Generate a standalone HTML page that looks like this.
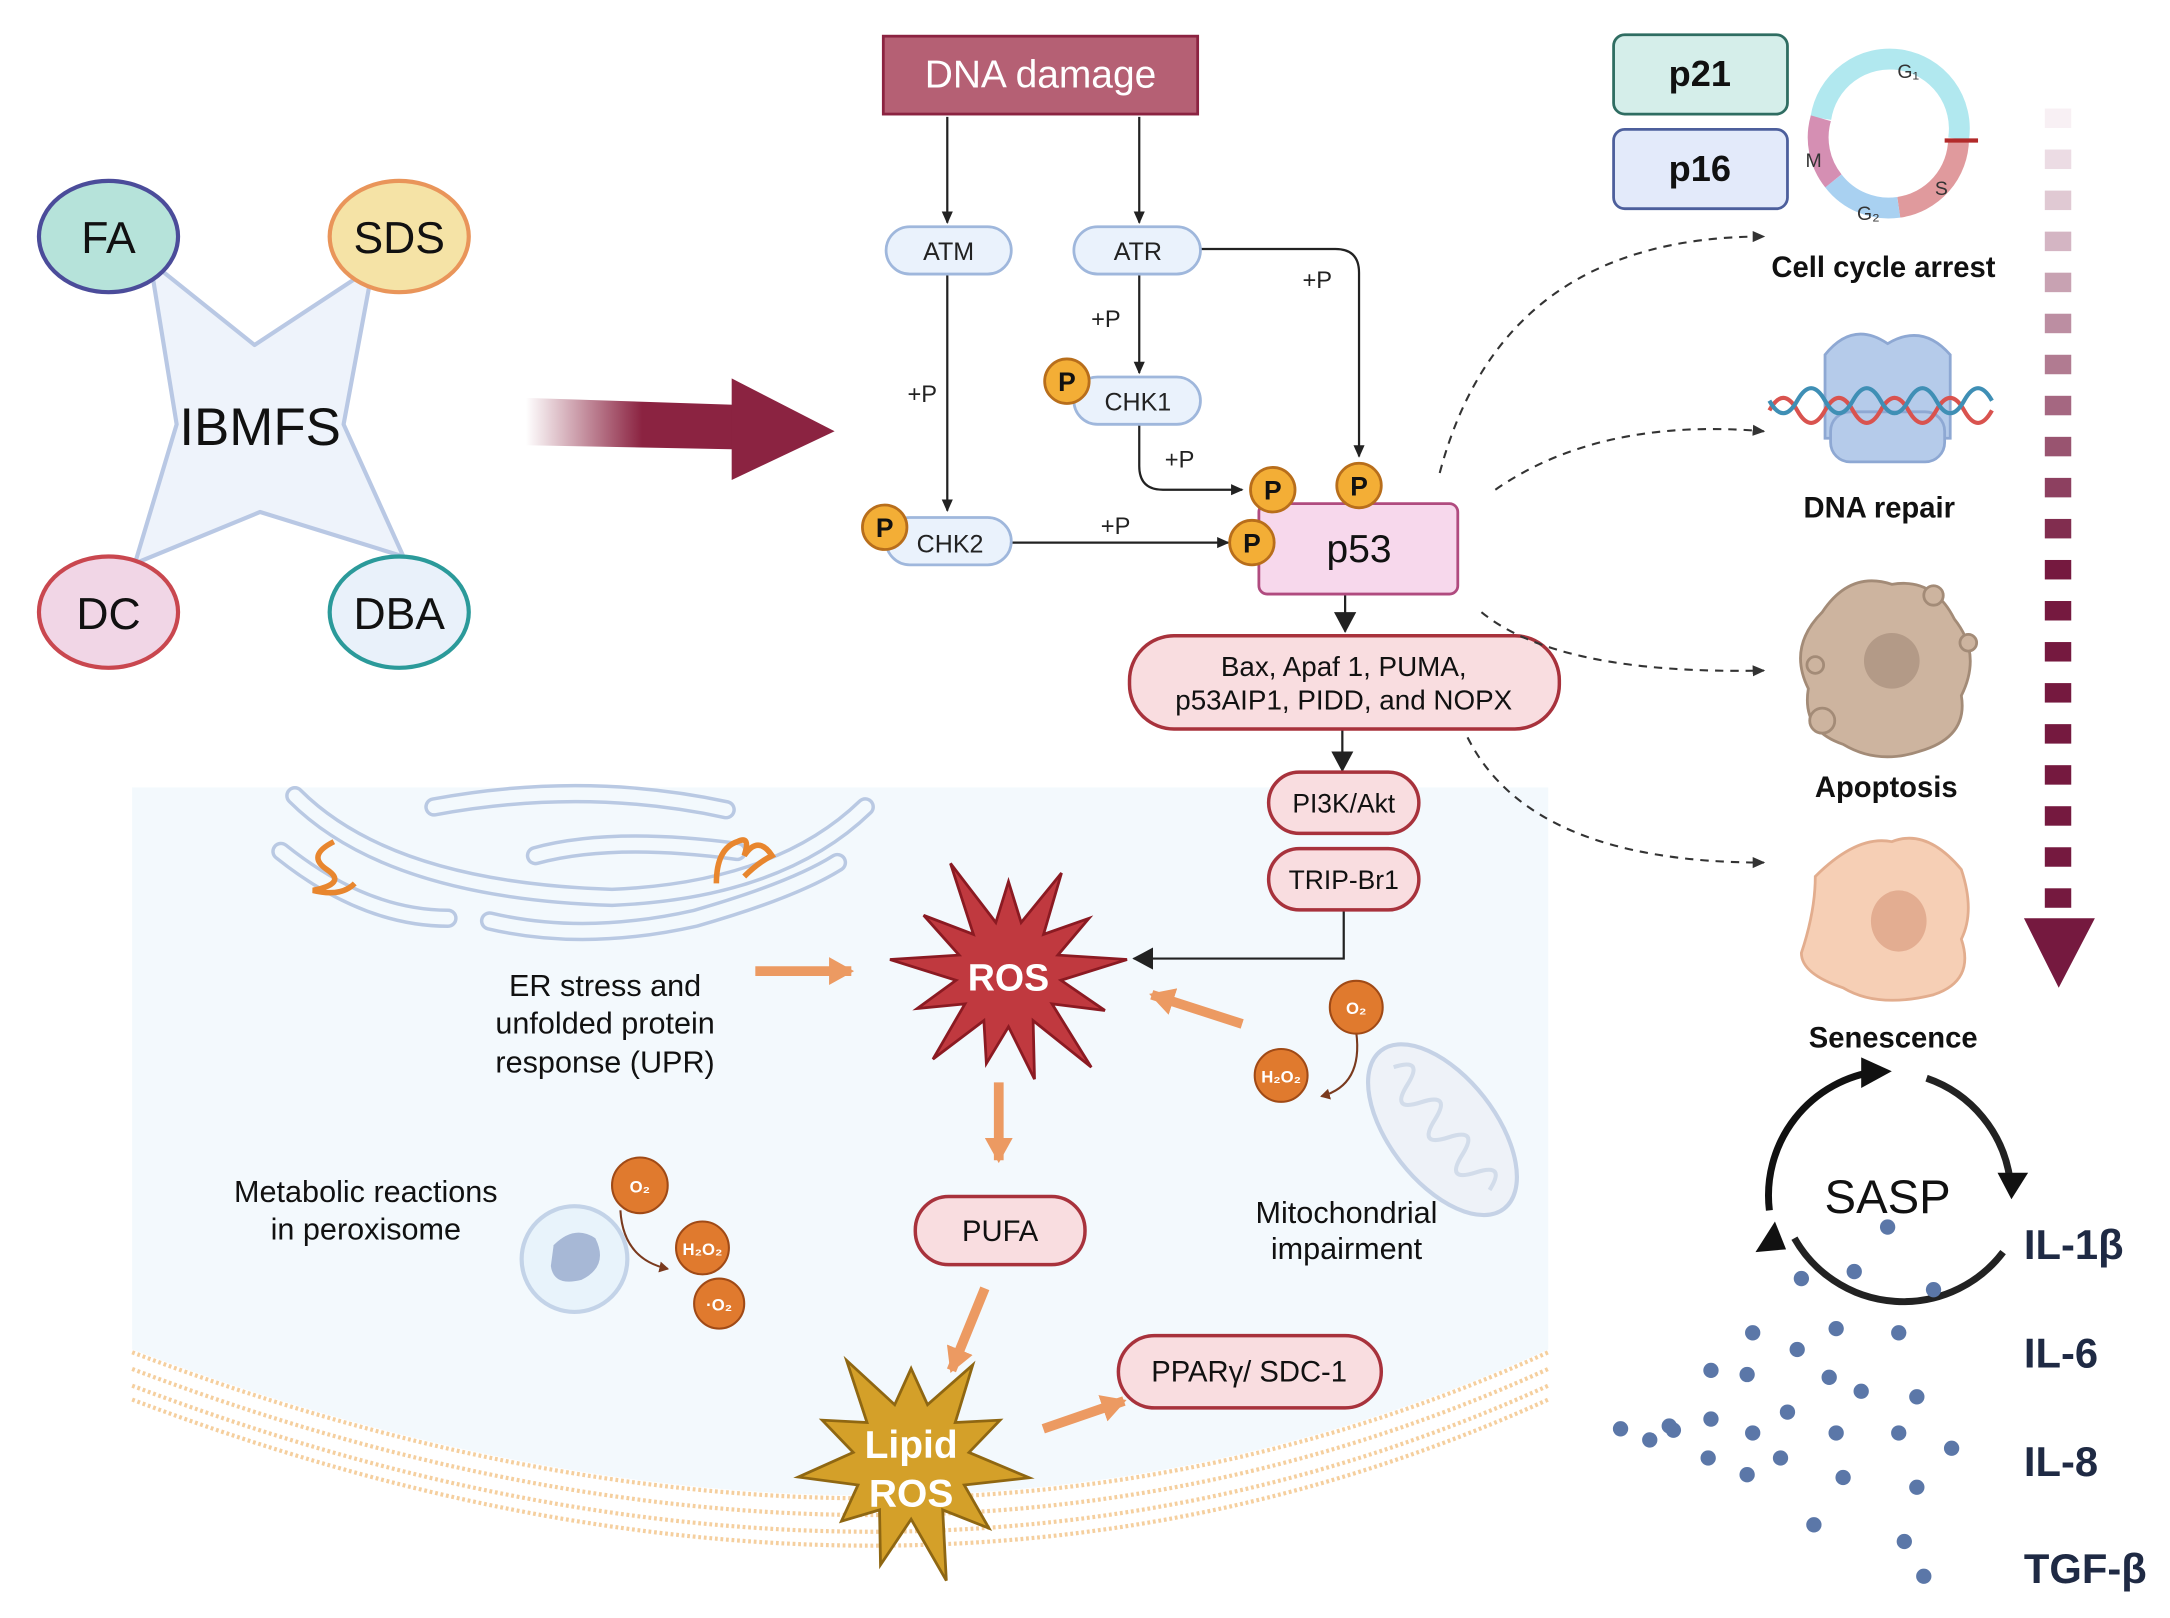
<!DOCTYPE html>
<html><head><meta charset="utf-8"><style>
html,body{margin:0;padding:0;background:#fff}
svg{display:block}
text{font-family:"Liberation Sans",sans-serif}
</style></head><body>
<svg id="s" width="2170" height="1618" viewBox="0 0 1560 1163" preserveAspectRatio="none" xmlns="http://www.w3.org/2000/svg">
<defs>
<linearGradient id="shaft" x1="0" x2="1" y1="0" y2="0">
<stop offset="0" stop-color="#8b2341" stop-opacity="0"/><stop offset="0.55" stop-color="#8b2341"/><stop offset="1" stop-color="#8b2341"/></linearGradient>
<marker id="ah" markerWidth="10" markerHeight="10" refX="8" refY="5" orient="auto" markerUnits="userSpaceOnUse"><path d="M0,1 L9,5 L0,9 Z" fill="#222"/></marker>
<marker id="ahb" markerWidth="16" markerHeight="16" refX="14" refY="8" orient="auto" markerUnits="userSpaceOnUse"><path d="M0,0 L15,8 L0,16 Z" fill="#222"/></marker>
<marker id="ahd" markerWidth="10" markerHeight="10" refX="8" refY="5" orient="auto" markerUnits="userSpaceOnUse"><path d="M0,1 L9,5 L0,9 Z" fill="#333"/></marker>
<marker id="aho" markerWidth="20" markerHeight="20" refX="16" refY="10" orient="auto" markerUnits="userSpaceOnUse"><path d="M0,0 L18,10 L0,20 Z" fill="#ec9a62"/></marker>
<marker id="ahbr" markerWidth="8" markerHeight="8" refX="6" refY="4" orient="auto" markerUnits="userSpaceOnUse"><path d="M0,0 L7,4 L0,8 Z" fill="#7a3a1e"/></marker>
</defs>

<!-- cell region -->
<path d="M95,566 H1113 V970 Q650,1180 95,970 Z" fill="#f3f9fd"/>
<path d="M95,972 Q650,1182 1113,972" fill="none" stroke="#f5cf9e" stroke-width="3" stroke-dasharray="2,2"/>
<path d="M95,984 Q650,1194 1113,984" fill="none" stroke="#f5cf9e" stroke-width="3" stroke-dasharray="2,2"/>
<path d="M95,996 Q650,1206 1113,996" fill="none" stroke="#f5cf9e" stroke-width="3" stroke-dasharray="2,2"/>
<path d="M95,1006 Q650,1216 1113,1006" fill="none" stroke="#f5cf9e" stroke-width="3" stroke-dasharray="2,2"/>

<!-- ER / golgi -->
<g fill="none" stroke="#b9c9e3" stroke-width="14" stroke-linecap="round">
<path d="M212,572 Q280,640 440,645 Q560,640 622,580"/>
<path d="M202,612 Q262,660 322,660"/>
<path d="M312,580 Q420,560 522,582"/>
<path d="M352,662 Q420,678 500,660 Q570,640 602,620"/>
<path d="M385,615 Q440,600 530,612"/>
</g>
<g fill="none" stroke="#f3f9fd" stroke-width="9" stroke-linecap="round">
<path d="M212,572 Q280,640 440,645 Q560,640 622,580"/>
<path d="M202,612 Q262,660 322,660"/>
<path d="M312,580 Q420,560 522,582"/>
<path d="M352,662 Q420,678 500,660 Q570,640 602,620"/>
<path d="M385,615 Q440,600 530,612"/>
</g>
<path d="M240,605 q-20,10 -5,20 q15,10 -10,15 q20,5 30,-5" fill="none" stroke="#e8862e" stroke-width="4"/>
<path d="M515,635 q0,-25 15,-30 q10,-5 5,10 q10,-15 20,0 q-10,5 -20,15" fill="none" stroke="#e8862e" stroke-width="4"/>

<!-- IBMFS -->
<polygon points="108,188 183,248 268,192 247,305 290,400 187,368 97,405 127,305" fill="#eef3fb" stroke="#b9c8e4" stroke-width="3" stroke-linejoin="round"/>
<ellipse cx="78" cy="170" rx="50" ry="40" fill="#b6e3da" stroke="#4b4c9a" stroke-width="3"/>
<ellipse cx="287" cy="170" rx="50" ry="40" fill="#f5e3a6" stroke="#e9955a" stroke-width="3"/>
<ellipse cx="78" cy="440" rx="50" ry="40" fill="#f1d6e6" stroke="#c9474f" stroke-width="3"/>
<ellipse cx="287" cy="440" rx="50" ry="40" fill="#e9f1fa" stroke="#2b9a9a" stroke-width="3"/>
<g font-size="32" text-anchor="middle" fill="#111">
<text x="78" y="182">FA</text><text x="287" y="182">SDS</text><text x="78" y="452">DC</text><text x="287" y="452">DBA</text>
<text x="187" y="320" font-size="38">IBMFS</text></g>

<!-- big arrow -->
<polygon points="378,286 530,291 530,323 378,320" fill="url(#shaft)"/>
<polygon points="526,272 600,310 526,345" fill="#8b2341"/>

<!-- DNA damage -->
<rect x="635" y="26" width="226" height="56" fill="#b56074" stroke="#8b2341" stroke-width="2"/>
<text x="748" y="63" font-size="28" fill="#fff" text-anchor="middle">DNA damage</text>

<g stroke="#222" stroke-width="1.6" fill="none">
<line x1="681" y1="84" x2="681" y2="160" marker-end="url(#ah)"/>
<line x1="819" y1="84" x2="819" y2="160" marker-end="url(#ah)"/>
<line x1="681" y1="197" x2="681" y2="367" marker-end="url(#ah)"/>
<line x1="819" y1="197" x2="819" y2="268" marker-end="url(#ah)"/>
<line x1="727" y1="390" x2="883" y2="390" marker-end="url(#ah)"/>
<path d="M819,305 V335 Q819,352 836,352 H893" marker-end="url(#ah)"/>
<path d="M863,179 H960 Q977,179 977,196 V328" marker-end="url(#ah)"/>
<path d="M966,654 V689 H815" marker-end="url(#ahb)"/>
<line x1="967" y1="428" x2="967" y2="454" marker-end="url(#ahb)"/>
<line x1="965" y1="525" x2="965" y2="554" marker-end="url(#ahb)"/>
</g>
<g font-size="17" fill="#222" text-anchor="middle">
<text x="663" y="289">+P</text><text x="795" y="235">+P</text><text x="848" y="336">+P</text>
<text x="947" y="207">+P</text><text x="802" y="384">+P</text></g>

<g fill="#eaf2fc" stroke="#9fb7dc" stroke-width="2">
<rect x="637" y="163" width="90" height="34" rx="17"/>
<rect x="772" y="163" width="91" height="34" rx="17"/>
<rect x="637" y="372" width="90" height="34" rx="17"/>
<rect x="772" y="271" width="91" height="34" rx="17"/>
</g>
<g font-size="18" fill="#222" text-anchor="middle">
<text x="682" y="187">ATM</text><text x="818" y="187">ATR</text>
<text x="683" y="397">CHK2</text><text x="818" y="295">CHK1</text></g>

<rect x="905" y="362" width="143" height="65" rx="6" fill="#f7d8ec" stroke="#b04b7f" stroke-width="2"/>
<text x="977" y="404" font-size="28" text-anchor="middle" fill="#111">p53</text>

<g fill="#f3ae36" stroke="#b86e1b" stroke-width="2">
<circle cx="636" cy="379" r="16"/><circle cx="767" cy="274" r="16"/>
<circle cx="915" cy="352" r="16"/><circle cx="977" cy="349" r="16"/><circle cx="900" cy="390" r="16"/></g>
<g font-size="19" font-weight="bold" fill="#111" text-anchor="middle">
<text x="636" y="386">P</text><text x="767" y="281">P</text><text x="915" y="359">P</text><text x="977" y="356">P</text><text x="900" y="397">P</text></g>

<rect x="812" y="457" width="309" height="67" rx="32" fill="#f9dde0" stroke="#a8323c" stroke-width="2.5"/>
<text x="966" y="486" font-size="20" text-anchor="middle" fill="#111">Bax, Apaf 1, PUMA,</text>
<text x="966" y="510" font-size="20" text-anchor="middle" fill="#111">p53AIP1, PIDD, and NOPX</text>
<rect x="912" y="555" width="108" height="44" rx="22" fill="#f9dde0" stroke="#a8323c" stroke-width="2.5"/>
<rect x="912" y="610" width="108" height="44" rx="22" fill="#f9dde0" stroke="#a8323c" stroke-width="2.5"/>
<text x="966" y="584" font-size="19" text-anchor="middle" fill="#111">PI3K/Akt</text>
<text x="966" y="639" font-size="19" text-anchor="middle" fill="#111">TRIP-Br1</text>

<!-- ROS -->
<polygon id="ros" fill="#c0393f" stroke="#8b1a22" stroke-width="2"/>
<text x="725" y="712" font-size="27" font-weight="bold" fill="#fff" text-anchor="middle">ROS</text>
<polygon id="lros" fill="#d4a029" stroke="#8f6712" stroke-width="2"/>
<text x="655" y="1048" font-size="28" font-weight="bold" fill="#fff" text-anchor="middle">Lipid</text>
<text x="655" y="1083" font-size="28" font-weight="bold" fill="#fff" text-anchor="middle">ROS</text>

<g stroke="#ec9a62" stroke-width="7" fill="none">
<line x1="543" y1="698" x2="612" y2="698" marker-end="url(#aho)"/>
<line x1="893" y1="736" x2="828" y2="715" marker-end="url(#aho)"/>
<line x1="718" y1="778" x2="718" y2="834" marker-end="url(#aho)"/>
<line x1="708" y1="926" x2="684" y2="985" marker-end="url(#aho)"/>
<line x1="750" y1="1027" x2="808" y2="1007" marker-end="url(#aho)"/>
</g>

<!-- mitochondrion -->
<g transform="rotate(52 1037 812)">
<ellipse cx="1037" cy="812" rx="72" ry="38" fill="#eef2f8" stroke="#c5d2e6" stroke-width="3"/>
<path d="M980,812 q8,-22 16,0 q8,22 16,0 q8,-22 16,0 q8,22 16,0 q8,-22 16,0 q8,22 16,0 q8,-22 16,0" fill="none" stroke="#d2dcea" stroke-width="3"/>
</g>

<g font-size="22" fill="#111" text-anchor="middle">
<text x="435" y="716">ER stress and</text><text x="435" y="743">unfolded protein</text><text x="435" y="771">response (UPR)</text>
<text x="263" y="864">Metabolic reactions</text><text x="263" y="891">in peroxisome</text>
<text x="968" y="879">Mitochondrial</text><text x="968" y="905">impairment</text></g>

<path d="M975,742 Q980,780 950,788" fill="none" stroke="#7a3a1e" stroke-width="1.5" marker-end="url(#ahbr)"/>

<!-- peroxisome -->
<circle cx="413" cy="905" r="38" fill="#e8f3fb" stroke="#c3d3e8" stroke-width="3"/>
<path d="M398,895 q15,-15 30,-5 q10,20 -10,30 q-20,5 -22,-10 z" fill="#a7b8d6"/>
<path d="M446,870 Q448,905 480,912" fill="none" stroke="#7a3a1e" stroke-width="1.5" marker-end="url(#ahbr)"/>

<g fill="#e07a2e" stroke="#a04a16" stroke-width="1.5">
<circle cx="975" cy="724" r="19"/><circle cx="921" cy="773" r="19"/>
<circle cx="460" cy="852" r="20"/><circle cx="505" cy="897" r="19"/><circle cx="517" cy="937" r="18"/></g>
<g font-size="12" font-weight="bold" fill="#fff" text-anchor="middle">
<text x="975" y="729">O₂</text><text x="921" y="778">H₂O₂</text>
<text x="460" y="857">O₂</text><text x="505" y="902">H₂O₂</text><text x="517" y="942">·O₂</text></g>

<rect x="658" y="860" width="122" height="49" rx="24" fill="#f9dde0" stroke="#a8323c" stroke-width="2.5"/>
<text x="719" y="892" font-size="21" text-anchor="middle" fill="#111">PUFA</text>
<rect x="804" y="960" width="189" height="52" rx="26" fill="#f9dde0" stroke="#a8323c" stroke-width="2.5"/>
<text x="898" y="993" font-size="21" text-anchor="middle" fill="#111">PPARγ/ SDC-1</text>

<!-- right side -->
<rect x="1160" y="25" width="125" height="57" rx="8" fill="#d5eeea" stroke="#2f6d62" stroke-width="2"/>
<rect x="1160" y="93" width="125" height="57" rx="8" fill="#e3eafa" stroke="#4d5f9c" stroke-width="2"/>
<text x="1222" y="62" font-size="26" font-weight="bold" text-anchor="middle" fill="#111">p21</text>
<text x="1222" y="130" font-size="26" font-weight="bold" text-anchor="middle" fill="#111">p16</text>

<g fill="none" stroke-width="15">
<path d="M1309,85 A50,50 0 0 1 1408,100" stroke="#b1e8ef"/>
<path d="M1408,100 A50,50 0 0 1 1365,149" stroke="#e09a9d"/>
<path d="M1365,149 A50,50 0 0 1 1318,130" stroke="#a9d1f1"/>
<path d="M1318,130 A50,50 0 0 1 1309,85" stroke="#d58fb3"/>
</g>
<line x1="1398" y1="101" x2="1422" y2="101" stroke="#b22a2a" stroke-width="3"/>
<g font-size="14" fill="#333"><text x="1364" y="56">G₁</text><text x="1298" y="120">M</text><text x="1391" y="140">S</text><text x="1335" y="158">G₂</text></g>

<g font-size="21" font-weight="bold" fill="#111" text-anchor="middle">
<text x="1354" y="199">Cell cycle arrest</text><text x="1351" y="372">DNA repair</text>
<text x="1356" y="573">Apoptosis</text><text x="1361" y="753">Senescence</text></g>

<!-- DNA repair icon -->
<path d="M1312,255 q20,-25 45,-8 q25,-15 45,8 v60 h-90 z" fill="#b5cbea" stroke="#8ea8d3" stroke-width="2"/>
<rect x="1316" y="296" width="82" height="36" rx="14" fill="#b5cbea" stroke="#8ea8d3" stroke-width="2"/>
<path d="M1272,295 q10,-18 20,0 t20,0 t20,0 t20,0 t20,0 t20,0 t20,0 t20,0" fill="none" stroke="#d9534f" stroke-width="3"/>
<path d="M1272,288 q10,18 20,0 t20,0 t20,0 t20,0 t20,0 t20,0 t20,0 t20,0" fill="none" stroke="#3f8fb5" stroke-width="3"/>

<!-- apoptosis cell -->
<path d="M1310,440 q20,-30 50,-20 q30,-5 45,25 q20,25 5,55 q5,30 -30,40 q-30,10 -55,-5 q-30,-10 -25,-40 q-15,-30 10,-55 z" fill="#cdb49f" stroke="#a38b77" stroke-width="2"/>
<circle cx="1360" cy="475" r="20" fill="#b39a87"/>
<g fill="#cdb49f" stroke="#a38b77" stroke-width="2"><circle cx="1310" cy="518" r="9"/><circle cx="1415" cy="462" r="6"/><circle cx="1390" cy="428" r="7"/><circle cx="1305" cy="478" r="6"/></g>

<!-- senescence cell -->
<path d="M1305,630 q30,-30 55,-25 q25,-10 50,20 q10,30 0,50 q10,30 -20,40 q-40,10 -65,-5 q-30,-10 -30,-25 q10,-30 10,-55 z" fill="#f6cfb5" stroke="#e2ad8e" stroke-width="2"/>
<ellipse cx="1365" cy="662" rx="20" ry="22" fill="#e3ad91"/>

<!-- dashed arrows -->
<g fill="none" stroke="#333" stroke-width="1.5" stroke-dasharray="6,5">
<path d="M1035,340 Q1080,170 1268,170" marker-end="url(#ahd)"/>
<path d="M1075,352 Q1150,300 1268,310" marker-end="url(#ahd)"/>
<path d="M1065,440 Q1120,485 1268,482" marker-end="url(#ahd)"/>
<path d="M1055,530 Q1100,620 1268,620" marker-end="url(#ahd)"/>
</g>

<g id="bars"></g>
<polygon points="1455,660 1506,660 1480,710" fill="#75193f"/>

<!-- SASP -->
<g fill="none" stroke-width="5">
<path d="M1272,870 A90,90 0 0 1 1350,770" stroke="#111"/>
<path d="M1385,775 A90,90 0 0 1 1445,848" stroke="#222"/>
<path d="M1440,900 A90,90 0 0 1 1290,890" stroke="#222"/>
</g>
<polygon points="1338,760 1360,770 1338,782" fill="#111"/>
<polygon points="1436,843 1458,843 1446,862" fill="#111"/>
<polygon points="1262,900 1284,898 1276,878" fill="#111"/>
<text x="1357" y="872" font-size="34" text-anchor="middle" fill="#111">SASP</text>
<g font-size="30" font-weight="bold" fill="#1f2a44">
<text x="1455" y="905">IL-1β</text><text x="1455" y="983">IL-6</text><text x="1455" y="1061">IL-8</text><text x="1455" y="1138">TGF-β</text></g>
<g id="dots" fill="#5b77a8"></g>
</svg>
<script>
function star(id,cx,cy,ro,ri,n,jit){
 var p=[];for(var i=0;i<2*n;i++){var a=Math.PI*i/n-Math.PI/2;var r=i%2?ri:ro*(1+((i*37)%7-3)*jit);p.push((cx+r*Math.cos(a)).toFixed(1)+","+(cy+r*Math.sin(a)).toFixed(1));}
 document.getElementById(id).setAttribute("points",p.join(" "));}
star("ros",725,700,78,38,13,0.05);
star("lros",655,1050,78,42,11,0.05);
var g=document.getElementById("bars"),s="";
for(var i=0;i<20;i++){var y=78+i*29.5;var t=Math.min(1,i/11);
var r=Math.round(248+(117-248)*t),gg=Math.round(240+(25-240)*t),b=Math.round(244+(63-244)*t);
s+='<rect x="1470" y="'+y+'" width="19" height="14" fill="rgb('+r+','+gg+','+b+')"/>';}
g.innerHTML=s;
var d=[[1357,882],[1333,914],[1295,919],[1390,927],[1260,958],[1292,970],[1320,955],[1365,958],[1230,985],[1256,988],[1315,990],[1338,1000],[1378,1004],[1200,1025],[1230,1020],[1285,1015],[1165,1027],[1186,1035],[1203,1028],[1260,1030],[1320,1030],[1365,1030],[1403,1041],[1228,1048],[1280,1048],[1256,1060],[1325,1062],[1378,1069],[1304,1096],[1369,1108],[1383,1133]];
var h="";d.forEach(function(q){h+='<circle cx="'+q[0]+'" cy="'+q[1]+'" r="5.5"/>';});
document.getElementById("dots").innerHTML=h;
</script>
</body></html>
